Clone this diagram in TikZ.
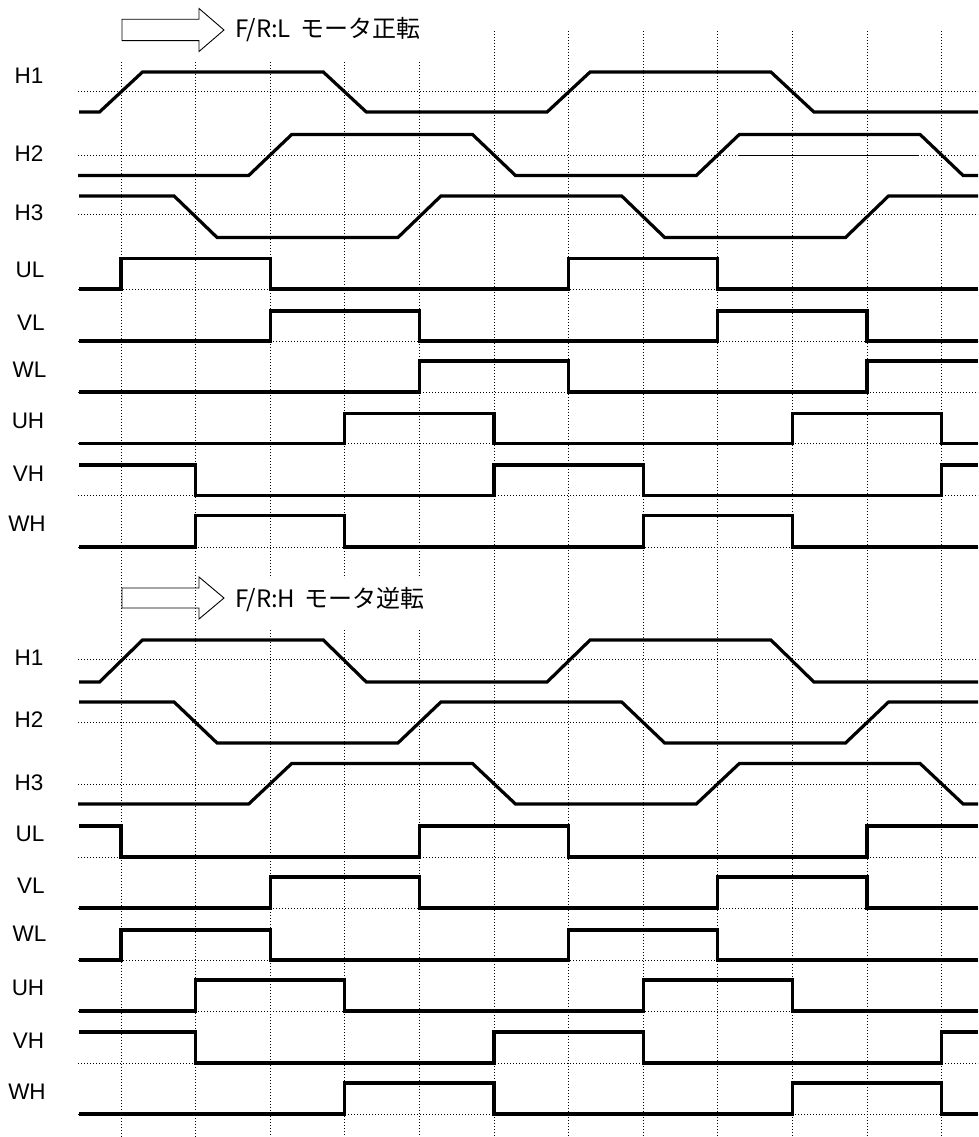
\documentclass[tikz,border=0pt]{standalone}
\usepackage{fontspec}
\setmainfont{Liberation Sans}
\newfontfamily\jpfont{Noto Sans CJK JP}
\begin{document}
\begin{tikzpicture}[x=1pt,y=-1pt,
  sig/.style={line width=3.2pt, line join=miter, line cap=butt},
  gridline/.style={line width=0.9pt, dash pattern=on 1pt off 2pt},
  lab/.style={font=\fontsize{22.5}{22.5}\selectfont, inner sep=0pt, anchor=center},
  hdr/.style={font=\jpfont\fontsize{24}{24}\selectfont, inner sep=0pt, anchor=base west},
  blk/.style={line width=0.9pt, line join=miter}]
\useasboundingbox (0,0) rectangle (978,1137);

% vertical grid lines
\foreach \k in {0,1} {\pgfmathsetmacro\xx{121+74.6*\k}
  \draw[gridline] (\xx,62) -- (\xx,1137);}
\foreach \k in {2,3,4} {\pgfmathsetmacro\xx{121+74.6*\k}
  \draw[gridline] (\xx,62) -- (\xx,578);
  \draw[gridline] (\xx,630) -- (\xx,1137);}
\foreach \k in {5,...,11} {\pgfmathsetmacro\xx{121+74.6*\k}
  \draw[gridline] (\xx,31) -- (\xx,1137);}

% horizontal dotted reference lines
\foreach \yy in {91,155,214,289,341,392,443.5,495.5,547,659,722.5,784,857,908,960,1011,1063,1114}
  \draw[gridline] (78,\yy) -- (978,\yy);

% headers
\draw[blk] (122,19.3) -- (199,19.3) -- (199,8.5) -- (224,30) -- (199,51.5) -- (199,40.7) -- (122,40.7) -- cycle;
\node[hdr] (hdrA) at (235,38) {F/R:L\hspace{0.4em}モータ正転};
\draw[blk] (122,588) -- (199,588) -- (199,577) -- (224,598) -- (199,619) -- (199,608) -- (122,608) -- cycle;
\node[hdr] (hdrB) at (235,607.5) {F/R:H\hspace{0.4em}モータ逆転};

% labels top
\node[lab] (tH1) at (29,75.5) {H1};
\node[lab] (tH2) at (29,153.7) {H2};
\node[lab] (tH3) at (29,213) {H3};
\node[lab] (tUL) at (30,270) {UL};
\node[lab] (tVL) at (31,322.5) {VL};
\node[lab] (tWL) at (29.5,370) {WL};
\node[lab] (tUH) at (28,420.5) {UH};
\node[lab] (tVH) at (28.5,474) {VH};
\node[lab] (tWH) at (27,524) {WH};
% labels bottom
\node[lab] (bH1) at (29,657.5) {H1};
\node[lab] (bH2) at (29,720) {H2};
\node[lab] (bH3) at (29,783) {H3};
\node[lab] (bUL) at (30,833.5) {UL};
\node[lab] (bVL) at (31,885.5) {VL};
\node[lab] (bWL) at (29.5,934) {WL};
\node[lab] (bUH) at (28,987.5) {UH};
\node[lab] (bVH) at (28.5,1040.5) {VH};
\node[lab] (bWH) at (27,1092) {WH};

% ---------- top half signals ----------
\draw[sig] (79,112) -- (99.5,112) -- (142.5,72) -- (323.3,72) -- (366.3,112) -- (547.1,112) -- (590.1,72) -- (770.9,72) -- (813.9,112) -- (978,112);
\draw[sig] (78,175.5) -- (248.7,175.5) -- (291.7,134.5) -- (472.5,134.5) -- (515.5,175.5) -- (696.3,175.5) -- (739.3,134.5) -- (920.1,134.5) -- (963.1,175.5) -- (978,175.5);
\draw[line width=0.8pt] (738,155) -- (919,155);
\draw[sig] (79,196) -- (174.1,196) -- (217.1,237.5) -- (397.9,237.5) -- (440.9,196) -- (621.7,196) -- (664.7,237.5) -- (845.5,237.5) -- (888.5,196) -- (978,196);

\draw[sig] (79,289) -- (121,289) -- (121,258.5) -- (270.2,258.5) -- (270.2,289) -- (568.6,289) -- (568.6,258.5) -- (717.8,258.5) -- (717.8,289) -- (978,289);
\draw[sig] (79,341) -- (270.2,341) -- (270.2,311) -- (419.4,311) -- (419.4,341) -- (717.8,341) -- (717.8,311) -- (867,311) -- (867,341) -- (978,341);
\draw[sig] (79,392) -- (419.4,392) -- (419.4,361) -- (568.6,361) -- (568.6,392) -- (867,392) -- (867,361) -- (978,361);
\draw[sig] (79,443.5) -- (344.8,443.5) -- (344.8,413.5) -- (494,413.5) -- (494,443.5) -- (792.4,443.5) -- (792.4,413.5) -- (941.6,413.5) -- (941.6,443.5) -- (978,443.5);
\draw[sig] (79,465) -- (195.6,465) -- (195.6,495.5) -- (494,495.5) -- (494,465) -- (643.2,465) -- (643.2,495.5) -- (941.6,495.5) -- (941.6,465) -- (978,465);
\draw[sig] (79,547) -- (195.6,547) -- (195.6,515.5) -- (344.8,515.5) -- (344.8,547) -- (643.2,547) -- (643.2,515.5) -- (792.4,515.5) -- (792.4,547) -- (978,547);

% ---------- bottom half signals ----------
\draw[sig] (79,682) -- (99.5,682) -- (142.5,640) -- (323.3,640) -- (366.3,682) -- (547.1,682) -- (590.1,640) -- (770.9,640) -- (813.9,682) -- (978,682);
\draw[sig] (79,702) -- (174.1,702) -- (217.1,743) -- (397.9,743) -- (440.9,702) -- (621.7,702) -- (664.7,743) -- (845.5,743) -- (888.5,702) -- (978,702);
\draw[sig] (78,804) -- (248.7,804) -- (291.7,763.5) -- (472.5,763.5) -- (515.5,804) -- (696.3,804) -- (739.3,763.5) -- (920.1,763.5) -- (963.1,804) -- (978,804);

\draw[sig] (79,826) -- (121,826) -- (121,857) -- (419.4,857) -- (419.4,826) -- (568.6,826) -- (568.6,857) -- (867,857) -- (867,826) -- (978,826);
\draw[sig] (79,908) -- (270.2,908) -- (270.2,877) -- (419.4,877) -- (419.4,908) -- (717.8,908) -- (717.8,877) -- (867,877) -- (867,908) -- (978,908);
\draw[sig] (79,960) -- (121,960) -- (121,930) -- (270.2,930) -- (270.2,960) -- (568.6,960) -- (568.6,930) -- (717.8,930) -- (717.8,960) -- (978,960);
\draw[sig] (79,1011) -- (195.6,1011) -- (195.6,980) -- (344.8,980) -- (344.8,1011) -- (643.2,1011) -- (643.2,980) -- (792.4,980) -- (792.4,1011) -- (978,1011);
\draw[sig] (79,1032) -- (195.6,1032) -- (195.6,1063) -- (494,1063) -- (494,1032) -- (643.2,1032) -- (643.2,1063) -- (941.6,1063) -- (941.6,1032) -- (978,1032);
\draw[sig] (79,1114) -- (344.8,1114) -- (344.8,1083) -- (494,1083) -- (494,1114) -- (792.4,1114) -- (792.4,1083) -- (941.6,1083) -- (941.6,1114) -- (978,1114);
\end{tikzpicture}
\end{document}
